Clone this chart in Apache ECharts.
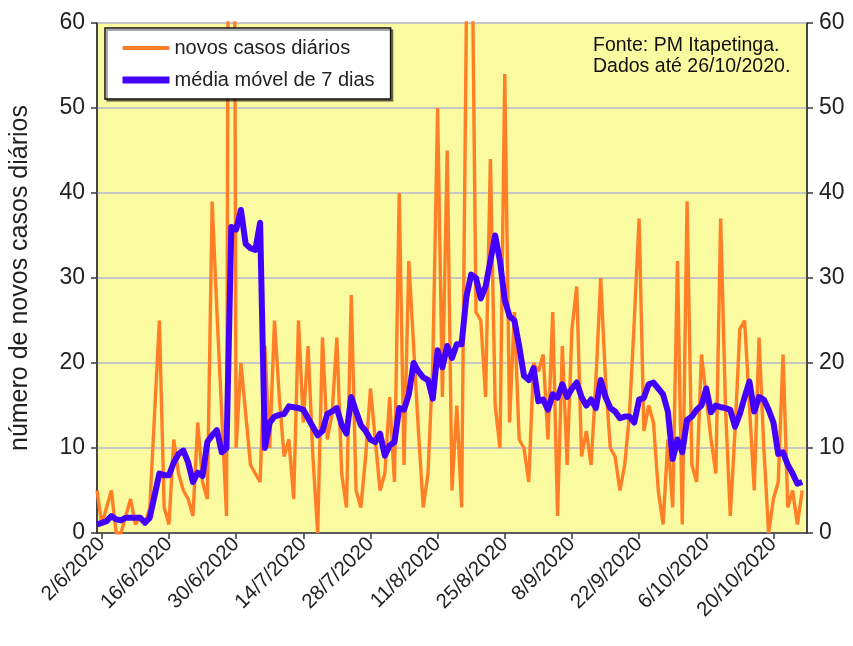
<!DOCTYPE html>
<html><head><meta charset="utf-8">
<script src="https://cdn.jsdelivr.net/npm/echarts@6/dist/echarts.min.js"></script>
<style>html,body{margin:0;padding:0;background:#fff}#c{width:853px;height:646px}</style>
</head><body><div id="c"></div>
<script>
// Daily new cases, from 1/6/2020 to 26/10/2020 (values above 60 are off-scale estimates)
const dailyCases = [
  5,1,3,5,0,0,2,4,1,2,
  1,3,14,25,3,1,11,7,5,4,
  2,13,6,4,39,26,14,2,195,10,
  20,14,8,7,6,22,10,25,16,9,
  11,4,25,13,22,9,0,23,11,14,
  23,7,3,28,5,3,9,17,11,5,
  7,16,6,40,8,32,22,12,3,7,
  20,50,16,45,5,15,3,61,80,26,
  25,16,44,15,10,54,13,26,11,10,
  6,20,19,21,11,26,2,22,8,24,
  29,9,12,8,18,30,18,10,9,5,
  8,14,25,37,12,15,13,5,1,11,
  3,32,1,39,8,6,21,16,11,7,
  37,15,2,12,24,25,15,5,23,10,
  0,4,6,21,3,5,1,5
];
// 7-day moving average
const movingAvg = [
  1,1.2,1.4,2,1.6,1.5,1.8,1.8,1.8,1.8,
  1.2,1.8,4.4,7,6.8,6.8,8.3,9.3,9.7,8.3,
  6,7.1,6.7,10.7,11.5,12.1,9.5,10,36,35.7,
  38,34,33.5,33.3,36.5,10,13,13.7,13.9,14,
  14.9,14.8,14.7,14.5,13.5,12.5,11.5,12,14,14.3,
  14.7,12.7,11.7,16,14.3,12.7,12,11,10.7,11.7,
  9.1,10.3,10.7,14.7,14.5,16.3,20,19,18.3,18,
  15.8,21.5,19.5,22,20.6,22.2,22.2,27.8,30.4,30,
  27.6,29,32,35,32,27.4,25.5,25,22,18.5,
  18,19.4,15.5,15.7,14.5,16.3,15.9,17.5,16,17,
  17.7,16,15,15.7,14.7,18,16,14.7,14.3,13.5,
  13.7,13.7,13,15.7,15.9,17.5,17.7,17,16.3,14.3,
  8.7,11,9.5,13.3,13.7,14.5,15,17,14.2,15,
  14.8,14.7,14.5,12.5,14,16,17.8,14.3,16,15.7,
  14.5,13,9.3,9.5,8,7,5.8,6
];
const tickLabels = ['2/6/2020','16/6/2020','30/6/2020','14/7/2020','28/7/2020','11/8/2020',
  '25/8/2020','8/9/2020','22/9/2020','6/10/2020','20/10/2020'];
const yTicks = [0,10,20,30,40,50,60];
const seriesNames = ['novos casos diários','média móvel de 7 dias'];
const yTitle = 'número de novos casos diários';
const noteText = 'Fonte: PM Itapetinga.\nDados até 26/10/2020.';

// category axis: one entry per day from 1/6/2020 to 27/10/2020
const categories = [];
for (let i = 0; i < 149; i++) {
  const dt = new Date(Date.UTC(2020, 5, 1 + i));
  categories.push(dt.getUTCDate() + '/' + (dt.getUTCMonth() + 1) + '/' + dt.getUTCFullYear());
}
const isTick = (idx) => tickLabels.indexOf(categories[idx]) >= 0;
const FONT = '"Liberation Sans", Arial, sans-serif';
const AX = '#3a3a3a';
const ORANGE = '#ff7f27';
const BLUE = '#4400ff';

const chart = echarts.init(document.getElementById('c'), null, {renderer: 'canvas'});
chart.setOption({
  animation: false,
  backgroundColor: '#ffffff',
  grid: {left: 97, right: 46, top: 23, bottom: 113, show: true,
         backgroundColor: '#fafaa0', borderColor: AX, borderWidth: 1.5},
  legend: {
    data: [
      {name: seriesNames[0], lineStyle: {width: 4, color: ORANGE}},
      {name: seriesNames[1], lineStyle: {width: 7, color: BLUE}}
    ],
    orient: 'vertical', left: 105, top: 28,
    backgroundColor: '#ffffff', borderColor: '#111', borderWidth: 1.5,
    shadowColor: 'rgba(0,0,0,0.45)', shadowOffsetX: 2, shadowOffsetY: 2, shadowBlur: 0,
    padding: [10, 16, 9, 14], itemWidth: 47, itemHeight: 14, itemGap: 12,
    itemStyle: {opacity: 0},
    textStyle: {fontSize: 20, fontFamily: FONT, color: '#222'}
  },
  graphic: [{
    type: 'text', left: 593, top: 35, z: 10,
    style: {text: noteText, font: '19.5px "Liberation Sans", Arial, sans-serif', fill: '#111', lineHeight: 21}
  }],
  xAxis: {
    type: 'category', data: categories, boundaryGap: false,
    axisLine: {lineStyle: {color: AX, width: 1.5}},
    axisTick: {interval: (i) => isTick(i), length: 6, lineStyle: {color: AX, width: 1.5}},
    axisLabel: {interval: (i) => isTick(i), rotate: 45, fontSize: 20.5, fontFamily: FONT, color: '#222', margin: 8},
    splitLine: {show: false}
  },
  yAxis: [{
    type: 'value', min: yTicks[0], max: yTicks[yTicks.length - 1], interval: 10, position: 'left',
    name: yTitle, nameLocation: 'middle', nameGap: 64, nameRotate: 90,
    nameTextStyle: {fontSize: 25, fontFamily: FONT, color: '#222'},
    axisLine: {show: true, lineStyle: {color: AX, width: 1.5}},
    axisTick: {show: true, length: 6, lineStyle: {color: AX, width: 1.5}},
    axisLabel: {fontSize: 23, fontFamily: FONT, color: '#222', margin: 12},
    splitLine: {show: true, lineStyle: {color: '#c6c6c4', width: 2}}
  }, {
    type: 'value', min: yTicks[0], max: yTicks[yTicks.length - 1], interval: 10, position: 'right',
    axisLine: {show: true, lineStyle: {color: AX, width: 1.5}},
    axisTick: {show: true, length: 6, lineStyle: {color: AX, width: 1.5}},
    axisLabel: {fontSize: 23, fontFamily: FONT, color: '#222', margin: 12},
    splitLine: {show: false}
  }],
  series: [{
    name: seriesNames[0], type: 'line', data: dailyCases, symbol: 'none', yAxisIndex: 0,
    lineStyle: {color: ORANGE, width: 3.4}, itemStyle: {color: ORANGE}, z: 2
  }, {
    name: seriesNames[1], type: 'line', data: movingAvg, symbol: 'none', yAxisIndex: 0,
    lineStyle: {color: BLUE, width: 6, join: 'round'}, itemStyle: {color: BLUE}, z: 3
  }]
});
</script></body></html>
